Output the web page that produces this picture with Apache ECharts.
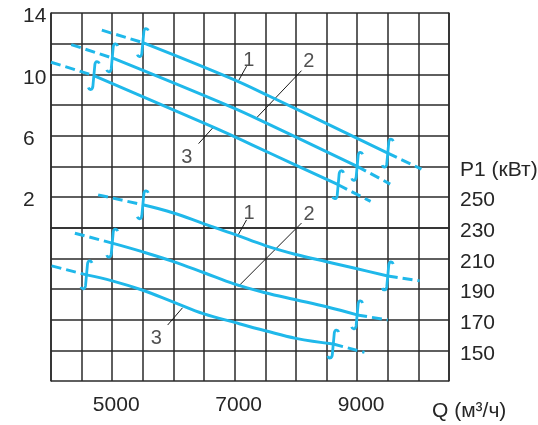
<!DOCTYPE html>
<html>
<head>
<meta charset="utf-8">
<script src="https://cdn.jsdelivr.net/npm/echarts@6/dist/echarts.min.js"></script>
<style>
  html, body { margin: 0; padding: 0; background: #fff; }
  #main { width: 538px; height: 425px; }
</style>
</head>
<body>
<div id="main"></div>
<script>
// Q (м3/ч) vs power (left axis) — 3 curves
// first/last segments are dashed, the junctions get the ∫ mark
var power1 = [[4830, 12.88], [5500, 12.07], [6920, 9.77], [7570, 8.57], [9500, 4.86], [10050, 3.82]];
var power2 = [[4330, 11.94], [5000, 11.07], [6920, 7.91], [7570, 6.72], [9000, 4.0], [9540, 2.84]];
var power3 = [[4000, 10.79], [4700, 9.92], [6650, 6.55], [7570, 4.87], [8690, 2.80], [9220, 1.71]];

// Q vs right axis (150..250) — 3 curves
var press1 = [[4770, 251.4], [5500, 244.9], [6000, 239.6], [6500, 232.5], [7000, 225.6], [7500, 218.3], [8000, 212.5], [8500, 207.8], [9000, 203.2], [9500, 198.5], [10020, 195.3]];
var press2 = [[4390, 226.4], [5000, 219.9], [5500, 214.2], [6000, 207.9], [6500, 200.6], [7000, 193.2], [7500, 187.6], [8000, 183.0], [8500, 178.4], [9000, 173.1], [9500, 169.8]];
var press3 = [[4010, 205.1], [4580, 199.2], [5000, 195.3], [5500, 189.2], [6000, 181.5], [6500, 173.8], [7000, 168.2], [7500, 162.8], [8000, 157.8], [8610, 154.1], [9120, 148.7]];

// curve numbers and their leader lines
var topTags = [['1', 7230, 10.91], ['2', 8210, 10.85], ['3', 6220, 4.60]];
var topLeaders = [[[7194, 10.53], [7063, 9.59]], [[8091, 10.24], [7357, 7.16]], [[6410, 5.48], [6649, 6.54]]];
var lowTags = [['1', 7236, 239.0], ['2', 8214, 238.5], ['3', 5719, 157.8]];
var lowLeaders = [[[7194, 235.1], [7057, 225.3]], [[8091, 233.0], [7057, 191.6]], [[5905, 166.5], [6149, 177.8]]];

// axis labels
var xLabels = [5000, 7000, 9000];
var leftLabels = [14, 10, 6, 2];
var rightLabels = [150, 170, 190, 210, 230, 250];
var rightTitle = 'P1 (кВт)';   // sits on the 270 line
var xName = 'Q (м³/ч)';

var cyan = '#1fb8ea';
var gridColor = '#2a2a2a';
var textColor = '#262626';
var font = 'Liberation Sans, Arial, sans-serif';
var integralPath = 'M11,3 C10,0.5 7,0 6.5,4 L4.5,26 C4,29.5 1,30 0,27';

var chart = echarts.init(document.getElementById('main'));

function curveSeries(pts, yIdx) {
  var n = pts.length;
  var base = { type: 'line', yAxisIndex: yIdx, symbol: 'none', silent: true, z: 3 };
  return [
    Object.assign({}, base, { data: pts.slice(0, 2), lineStyle: { color: cyan, width: 3, type: [10, 5] } }),
    Object.assign({}, base, { data: pts.slice(1, n - 1), smooth: 0.4, lineStyle: { color: cyan, width: 3 } }),
    Object.assign({}, base, { data: pts.slice(n - 2), lineStyle: { color: cyan, width: 3, type: [10, 5] } }),
    {
      // the ∫ break marks where the solid part begins and ends
      type: 'custom', yAxisIndex: yIdx, silent: true, z: 4,
      data: [pts[1], pts[n - 2]],
      renderItem: function (params, api) {
        var p = api.coord([api.value(0), api.value(1)]);
        return {
          type: 'path',
          shape: { pathData: integralPath, x: p[0] - 5.5, y: p[1] - 15, width: 11, height: 30 },
          style: { stroke: cyan, lineWidth: 2.8, fill: null }
        };
      }
    }
  ];
}

function tagSeries(tags, leaders, yIdx) {
  var out = leaders.map(function (l) {
    return {
      type: 'line', yAxisIndex: yIdx, symbol: 'none', silent: true, z: 2,
      data: l, lineStyle: { color: '#1a1a1a', width: 1 }
    };
  });
  out.push({
    type: 'scatter', yAxisIndex: yIdx, silent: true, symbolSize: 0, z: 5,
    data: tags.map(function (t) { return { name: t[0], value: [t[1], t[2]] }; }),
    label: {
      show: true, position: 'inside', formatter: '{b}',
      color: textColor, fontSize: 20, fontFamily: font
    }
  });
  return out;
}

var series = [].concat(
  curveSeries(power1, 0), curveSeries(power2, 0), curveSeries(power3, 0),
  curveSeries(press1, 1), curveSeries(press2, 1), curveSeries(press3, 1),
  tagSeries(topTags, topLeaders, 0), tagSeries(lowTags, lowLeaders, 1)
);

// y labels sit a few px below their grid line in the original
var lowered = { t: { padding: [7, 0, 0, 0], color: textColor, fontSize: 21, fontFamily: font } };

var option = {
  animation: false,
  grid: { left: 51, right: 89, top: 13, bottom: 44, outerBoundsMode: 'none', containLabel: false },
  graphic: [{
    type: 'text', left: 432, top: 401,
    style: { text: xName, fill: textColor, fontSize: 21, fontFamily: font }
  }],
  xAxis: {
    type: 'value', min: 4000, max: 10500, interval: 500,
    axisLine: { show: true, lineStyle: { color: gridColor, width: 1.5 } },
    axisTick: { show: false },
    splitLine: { show: true, lineStyle: { color: gridColor, width: 1.5 } },
    axisLabel: {
      margin: 14, color: textColor, fontSize: 21, fontFamily: font, padding: [0, 0, 0, 8],
      formatter: function (v) { return xLabels.indexOf(v) >= 0 ? String(v) : ''; }
    }
  },
  yAxis: [
    {
      type: 'value', min: -10, max: 14, interval: 2, position: 'left',
      axisLine: { show: true, lineStyle: { color: gridColor, width: 1.5 } },
      axisTick: { show: false },
      splitLine: { show: true, lineStyle: { color: gridColor, width: 1.5 } },
      axisLabel: {
        margin: 28, align: 'left', color: textColor, fontSize: 21, fontFamily: font,
        rich: lowered,
        formatter: function (v) { return leftLabels.indexOf(v) >= 0 ? '{t|' + v + '}' : ''; }
      }
    },
    {
      type: 'value', min: 130, max: 370, interval: 10, position: 'right',
      axisLine: { show: true, lineStyle: { color: gridColor, width: 1.5 } },
      axisTick: { show: false },
      splitLine: { show: false },
      axisLabel: {
        margin: 11, align: 'left', color: textColor, fontSize: 21, fontFamily: font,
        rich: lowered,
        formatter: function (v) {
          if (v === 270) return '{t|' + rightTitle + '}';
          return rightLabels.indexOf(v) >= 0 ? '{t|' + v + '}' : '';
        }
      }
    }
  ],
  series: series
};

chart.setOption(option);
</script>
</body>
</html>
